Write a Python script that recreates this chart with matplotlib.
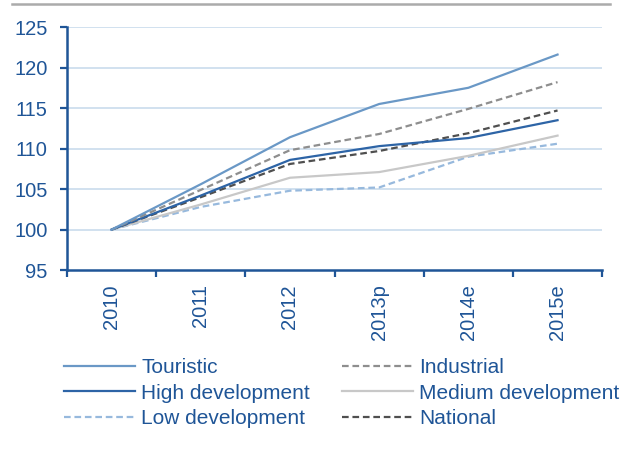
import numpy as np
import matplotlib.pyplot as plt
from matplotlib.lines import Line2D

plt.rcParams['font.family'] = ['Liberation Sans', 'DejaVu Sans']

# ---------------- datos ----------------
years = ['2010', '2011', '2012', '2013p', '2014e', '2015e']
touristic = [100, 105.6, 111.4, 115.5, 117.5, 121.6]
industrial = [100, 104.9, 109.8, 111.8, 114.9, 118.2]
high_dev = [100, 104.2, 108.6, 110.3, 111.3, 113.5]
medium_dev = [100, 103.1, 106.4, 107.1, 109.1, 111.6]
low_dev = [100, 102.8, 104.8, 105.2, 109.0, 110.6]
national = [100, 104.0, 108.1, 109.7, 111.9, 114.7]

txt = '#1F5597'
grid_c = '#C9DBEC'

fig = plt.figure(figsize=(6.44, 4.54), dpi=100)
ax = fig.add_axes([0.104, 0.405, 0.831, 0.5355])

x = np.arange(len(years))
dash = (3, 1.7)
series = {
    'Touristic': (touristic, '#6A98C6', None),
    'Industrial': (industrial, '#8E8E8E', dash),
    'High development': (high_dev, '#2D64A6', None),
    'Medium development': (medium_dev, '#C8C8C8', None),
    'Low development': (low_dev, '#97B9DD', dash),
    'National': (national, '#4F4F4F', dash),
}
# orden de dibujo: claras abajo
draw_order = ['Low development', 'Medium development', 'National',
              'High development', 'Industrial', 'Touristic']
for name in draw_order:
    vals, col, ds = series[name]
    l, = ax.plot(x, vals, color=col, lw=1.6, zorder=3)
    if ds:
        l.set_dashes(ds)

ax.set_xlim(-0.5, 5.5)
ax.set_ylim(95, 125)
ax.set_yticks(np.arange(95, 126, 5))
ax.set_xticks(x)
ax.set_xticklabels(years, rotation=90)
ax.set_xticks(np.arange(-0.5, 5.6, 1), minor=True)
ax.tick_params(axis='x', which='major', length=0, pad=10, labelsize=14.5, labelcolor=txt)
ax.tick_params(axis='x', which='minor', length=5, width=1.6, color=txt, direction='out')
ax.tick_params(axis='y', length=5, width=1.6, color=txt, pad=9, labelsize=14.5, labelcolor=txt)

for v in range(100, 126, 5):
    ax.axhline(v, color=grid_c, lw=1.2, zorder=1)

for s in ['top', 'right']:
    ax.spines[s].set_visible(False)
for s in ['left', 'bottom']:
    ax.spines[s].set_color(txt)
    ax.spines[s].set_linewidth(1.8)

# linea gris superior
fig.add_artist(Line2D([12 / 644, 610 / 644], [1 - 4 / 454, 1 - 4 / 454], color='#ABABAB', lw=1.8))

# leyenda (dos columnas, se lee por filas)
leg_order = ['Touristic', 'High development', 'Low development',
             'Industrial', 'Medium development', 'National']
handles = []
for name in leg_order:
    vals, col, ds = series[name]
    h = Line2D([], [], color=col, lw=1.6)
    if ds:
        h.set_dashes(ds)
    handles.append(h)
leg = fig.legend(handles, leg_order, ncol=2, loc='upper left', bbox_to_anchor=(64 / 644, 1 - 358 / 454),
                 frameon=False, fontsize=15, handlelength=3.4, handletextpad=0.3,
                 labelspacing=0.32, columnspacing=1.55, borderpad=0, borderaxespad=0)
for t in leg.get_texts():
    t.set_color(txt)

plt.savefig('out.png', dpi=100)
